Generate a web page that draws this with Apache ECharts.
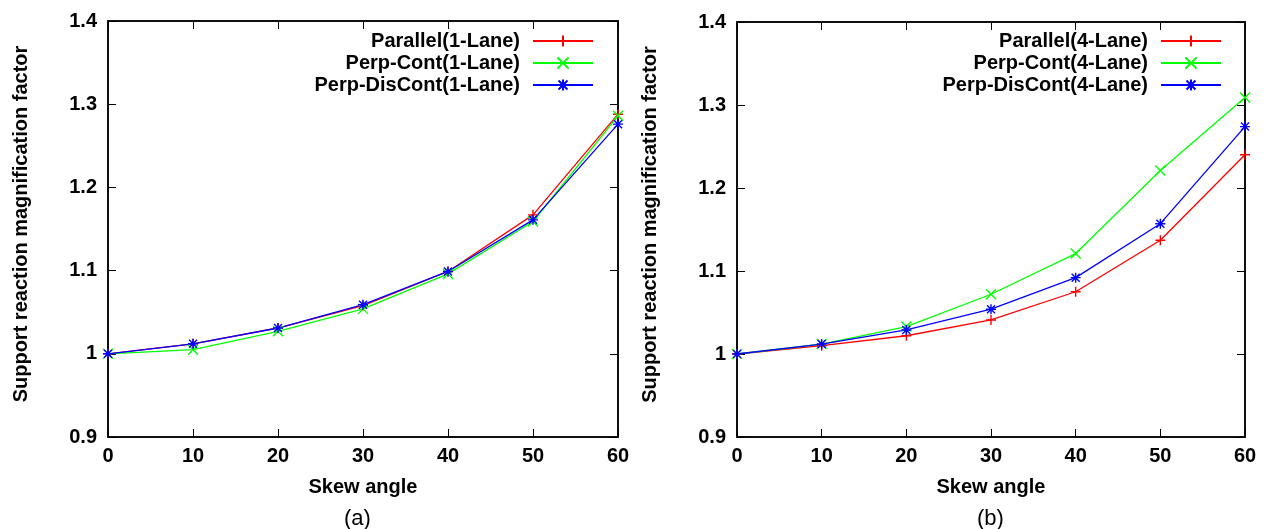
<!DOCTYPE html>
<html>
<head>
<meta charset="utf-8">
<script src="https://cdn.jsdelivr.net/npm/echarts@6/dist/echarts.min.js"></script>
<style>
  html, body { margin: 0; padding: 0; background: #fff; }
  #main { width: 1273px; height: 529px; }
</style>
</head>
<body>
<div id="main"></div>
<script>
// skew angles (x axis)
var angles = [0, 10, 20, 30, 40, 50, 60];

// (a) 1-Lane
var parallel1 = [1.000, 1.012, 1.031, 1.058, 1.099, 1.167, 1.288];
var perpCont1 = [1.000, 1.005, 1.027, 1.054, 1.096, 1.159, 1.286];
var perpDisCont1 = [1.000, 1.012, 1.031, 1.059, 1.099, 1.161, 1.276];

// (b) 4-Lane
var parallel4 = [1.000, 1.010, 1.022, 1.041, 1.075, 1.137, 1.240];
var perpCont4 = [1.000, 1.012, 1.033, 1.072, 1.121, 1.221, 1.309];
var perpDisCont4 = [1.000, 1.012, 1.029, 1.054, 1.092, 1.157, 1.274];

var yMin = 0.9, yMax = 1.4, yStep = 0.1;
var xMin = 0, xMax = 60, xStep = 10;

var FONT = "'Liberation Sans', Arial, Helvetica, sans-serif";

// gnuplot style point types
var PLUS = 'path://M5,0L5,10M0,5L10,5';
var CROSS = 'path://M0,0L10,10M10,0L0,10';
var STAR = 'path://M5,0L5,10M0,5L10,5M1,1L9,9M9,1L1,9';

function pairs(ys) {
  return angles.map(function (a, i) { return [a, ys[i]]; });
}

function line(name, ys, color, symbol, gi) {
  return {
    name: name,
    type: 'line',
    xAxisIndex: gi * 2,
    yAxisIndex: gi * 2,
    data: pairs(ys),
    symbol: symbol,
    symbolSize: 10,
    clip: false,
    lineStyle: { color: color, width: 1.3 },
    itemStyle: { color: color, borderColor: color, borderWidth: 1.4 },
    emphasis: { disabled: true },
    animation: false
  };
}

function xAxes(gi) {
  var base = {
    type: 'value', gridIndex: gi, min: xMin, max: xMax, interval: xStep,
    splitLine: { show: false },
    axisLine: { show: true, onZero: false, lineStyle: { color: '#000', width: 1.5 } },
    axisTick: { show: true, inside: true, length: 8, lineStyle: { color: '#000', width: 1 } }
  };
  return [
    Object.assign({}, base, {
      position: 'bottom',
      axisLabel: { margin: 9, color: '#000', fontSize: 20, fontWeight: 'bold', fontFamily: FONT },
      name: 'Skew angle', nameLocation: 'middle', nameGap: 40,
      nameTextStyle: { color: '#000', fontSize: 20, fontWeight: 'bold', fontFamily: FONT }
    }),
    Object.assign({}, base, { position: 'top', axisLabel: { show: false } })
  ];
}

function yAxes(gi) {
  var base = {
    type: 'value', gridIndex: gi, min: yMin, max: yMax, interval: yStep,
    splitLine: { show: false },
    axisLine: { show: true, onZero: false, lineStyle: { color: '#000', width: 1.5 } },
    axisTick: { show: true, inside: true, length: 8, lineStyle: { color: '#000', width: 1 } }
  };
  return [
    Object.assign({}, base, {
      position: 'left',
      axisLabel: { margin: 11, color: '#000', fontSize: 20, fontWeight: 'bold', fontFamily: FONT },
      name: 'Support reaction magnification factor', nameLocation: 'middle', nameGap: 77,
      nameTextStyle: { color: '#000', fontSize: 20, fontWeight: 'bold', fontFamily: FONT, padding: [0, 0, 0, 10] }
    }),
    Object.assign({}, base, { position: 'right', axisLabel: { show: false } })
  ];
}

function legend(names, right) {
  return {
    data: names,
    orient: 'vertical',
    align: 'right',
    right: right,
    top: 26,
    itemWidth: 60,
    itemHeight: 14,
    itemGap: 2,
    selectedMode: false,
    textStyle: { color: '#000', fontSize: 20, fontWeight: 'bold', fontFamily: FONT, padding: [0, 8, 0, 0] }
  };
}

var myChart = echarts.init(document.getElementById('main'), null, { renderer: 'canvas' });
myChart.setOption({
  animation: false,
  backgroundColor: '#fff',
  grid: [
    { left: 108, right: 655, top: 21, bottom: 92, show: true, borderColor: '#000', borderWidth: 1.5 },
    { left: 737, right: 28, top: 22, bottom: 92, show: true, borderColor: '#000', borderWidth: 1.5 }
  ],
  xAxis: xAxes(0).concat(xAxes(1)),
  yAxis: yAxes(0).concat(yAxes(1)),
  legend: [
    legend(['Parallel(1-Lane)', 'Perp-Cont(1-Lane)', 'Perp-DisCont(1-Lane)'], 674),
    legend(['Parallel(4-Lane)', 'Perp-Cont(4-Lane)', 'Perp-DisCont(4-Lane)'], 46)
  ],
  series: [
    line('Parallel(1-Lane)', parallel1, '#ff0000', PLUS, 0),
    line('Perp-Cont(1-Lane)', perpCont1, '#00ff00', CROSS, 0),
    line('Perp-DisCont(1-Lane)', perpDisCont1, '#0000ff', STAR, 0),
    line('Parallel(4-Lane)', parallel4, '#ff0000', PLUS, 1),
    line('Perp-Cont(4-Lane)', perpCont4, '#00ff00', CROSS, 1),
    line('Perp-DisCont(4-Lane)', perpDisCont4, '#0000ff', STAR, 1)
  ],
  graphic: [
    { type: 'text', left: 344, top: 508, style: { text: '(a)', fontSize: 22, fontFamily: FONT, fill: '#000' } },
    { type: 'text', left: 977, top: 508, style: { text: '(b)', fontSize: 22, fontFamily: FONT, fill: '#000' } }
  ]
});
</script>
</body>
</html>
